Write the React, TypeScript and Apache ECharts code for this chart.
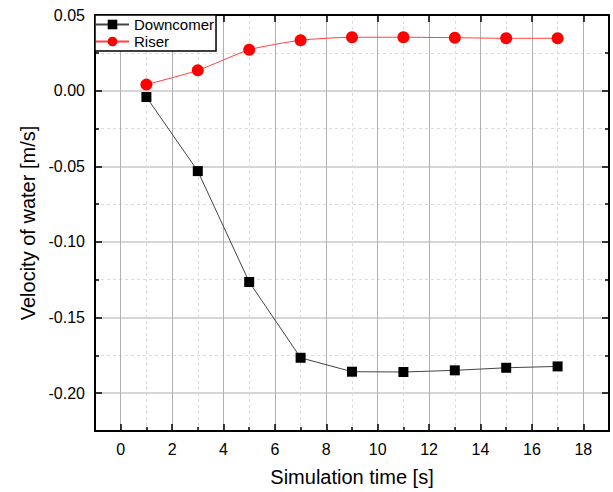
import React, { useEffect, useRef } from "react";
import * as echarts from "echarts";

const times = [1, 3, 5, 7, 9, 11, 13, 15, 17];
const downcomer = [-0.0042, -0.0532, -0.1265, -0.1766, -0.1858, -0.186, -0.1849, -0.1832, -0.1823];
const riser = [0.0040, 0.0134, 0.0270, 0.0333, 0.0353, 0.0353, 0.0350, 0.0346, 0.0346];
const seriesNames = ["Downcomer", "Riser"];
const xTitle = "Simulation time [s]";
const yTitle = "Velocity of water [m/s]";

const FONT = "Liberation Sans, Arial, sans-serif";

export default function App() {
  const ref = useRef<HTMLDivElement>(null);
  useEffect(() => {
    if (!ref.current) return;
    const chart = echarts.init(ref.current, undefined, { renderer: "svg" });
    const xMin = -1, xMax = 19, yMin = -0.225, yMax = 0.05;
    const axisLine = { show: true, onZero: false, lineStyle: { color: "#000", width: 2 } };
    const noLine = { show: false, onZero: false };
    const majorTick = { show: true, inside: true, length: 7, lineStyle: { color: "#000", width: 1.5 } };
    const minorTickS = { show: true, inside: true, length: 4, lineStyle: { color: "#000", width: 1.5 } };
    const option: any = {
      animation: false,
      backgroundColor: "#fff",
      textStyle: { fontFamily: FONT },
      grid: { left: 95, top: 15, right: 4, bottom: 60, containLabel: false },
      legend: {
        data: seriesNames,
        orient: "vertical",
        left: 95,
        top: 15,
        padding: [2, 2, 2, 0],
        itemWidth: 33,
        itemHeight: 12,
        itemGap: 2,
        backgroundColor: "#fff",
        borderColor: "#000",
        borderWidth: 1.5,
        borderRadius: 0,
        textStyle: { fontSize: 15, color: "#000", fontFamily: FONT },
        z: 10,
      },
      xAxis: [
        {
          type: "value", position: "bottom", min: xMin, max: xMax, splitNumber: 10,
          axisLine, axisTick: majorTick,
          axisLabel: { show: true, fontSize: 16, color: "#000", margin: 10, showMinLabel: false, showMaxLabel: false, fontFamily: FONT },
          splitLine: { show: true, lineStyle: { color: "#b0b0b0", width: 1 } },
          name: xTitle, nameLocation: "middle", nameGap: 36,
          nameTextStyle: { fontSize: 20, color: "#000", fontFamily: FONT },
        },
        {
          type: "value", position: "bottom", min: xMin, max: xMax, interval: 2,
          axisLine: noLine, axisTick: minorTickS, axisLabel: { show: false },
          splitLine: { show: true, lineStyle: { color: "#dcdcdc", width: 1, type: [3, 3] } },
        },
        {
          type: "value", position: "top", min: xMin, max: xMax, splitNumber: 10,
          axisLine, axisTick: majorTick, axisLabel: { show: false }, splitLine: { show: false },
        },
      ],
      yAxis: [
        {
          type: "value", position: "left", min: yMin, max: yMax, splitNumber: 5,
          axisLine, axisTick: majorTick,
          axisLabel: {
            show: true, fontSize: 16, color: "#000", margin: 10, showMinLabel: false, fontFamily: FONT,
            formatter: (v: number) => (Math.abs(v) < 1e-9 ? 0 : v).toFixed(2),
          },
          splitLine: { show: true, lineStyle: { color: "#c8c8c8", width: 1.5 } },
          name: yTitle, nameLocation: "middle", nameGap: 52,
          nameTextStyle: { fontSize: 20, color: "#000", fontFamily: FONT },
        },
        {
          type: "value", position: "left", min: yMin, max: yMax, interval: 0.05,
          axisLine: noLine, axisTick: minorTickS, axisLabel: { show: false },
          splitLine: { show: true, lineStyle: { color: "#dcdcdc", width: 1, type: [3, 3] } },
        },
        {
          type: "value", position: "right", min: yMin, max: yMax, splitNumber: 5,
          axisLine, axisTick: majorTick, axisLabel: { show: false }, splitLine: { show: false },
        },
        {
          type: "value", position: "right", min: yMin, max: yMax, interval: 0.05,
          axisLine: noLine, axisTick: minorTickS, axisLabel: { show: false }, splitLine: { show: false },
        },
      ],
      series: [
        {
          name: seriesNames[0], type: "line", xAxisIndex: 0, yAxisIndex: 0,
          data: times.map((t, i) => [t, downcomer[i]]),
          symbol: "rect", symbolSize: 10,
          itemStyle: { color: "#000" },
          lineStyle: { color: "#444", width: 1 },
          z: 3,
        },
        {
          name: seriesNames[1], type: "line", xAxisIndex: 0, yAxisIndex: 0,
          data: times.map((t, i) => [t, riser[i]]),
          symbol: "circle", symbolSize: 12, smooth: 0.2,
          itemStyle: { color: "#ff0000" },
          lineStyle: { color: "#ff4040", width: 1 },
          z: 3,
        },
      ],
    };
    chart.setOption(option);
    return () => chart.dispose();
  }, []);
  return <div ref={ref} style={{ width: 613, height: 492, position: "absolute", left: 0, top: 0 }} />;
}
